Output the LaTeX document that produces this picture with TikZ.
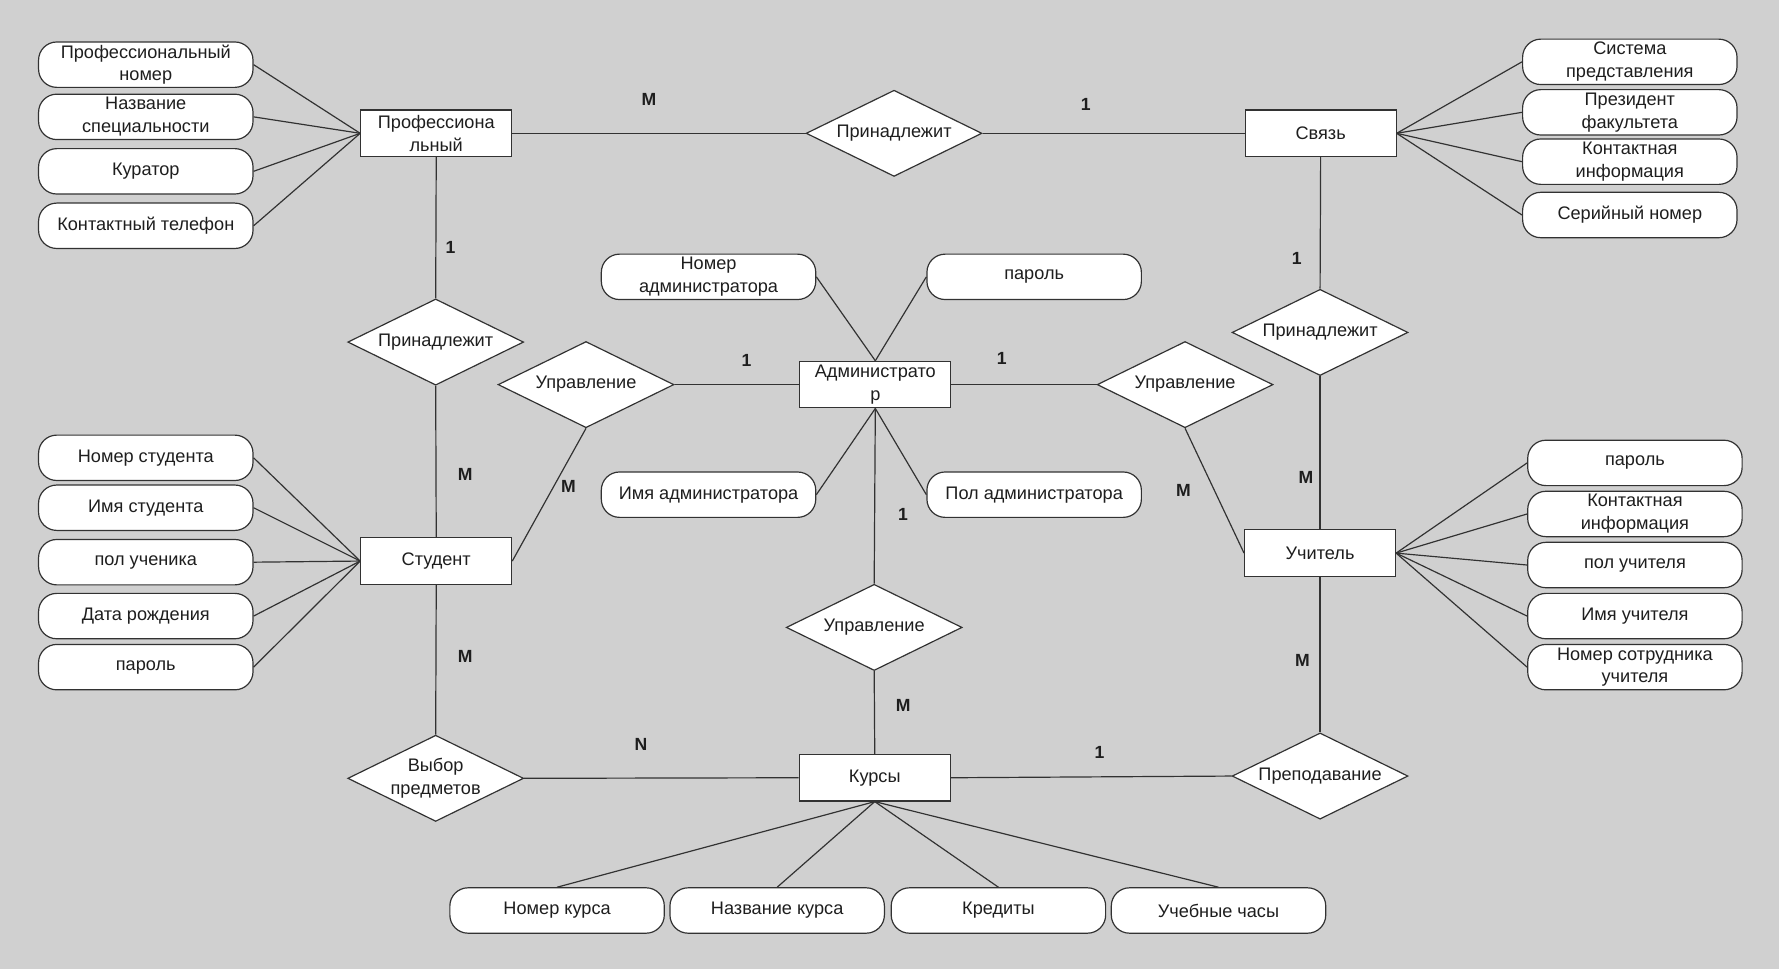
\documentclass[tikz,border=0pt]{standalone}
\usepackage{fontspec}
\setmainfont{Liberation Sans}
\usetikzlibrary{shapes.geometric}
\definecolor{bg}{RGB}{208,208,208}
\definecolor{ln}{RGB}{50,50,50}
\definecolor{tx}{RGB}{30,30,30}
\tikzset{
  ent/.style={draw=ln, fill=white, line width=1.05pt, minimum width=133pt, minimum height=41pt, inner sep=0pt, align=center, text=tx, font=\fontsize{16}{20}\selectfont},
  attr/.style={draw=ln, fill=white, line width=1.05pt, rounded corners=16pt, minimum width=189pt, minimum height=40pt, inner sep=0pt, align=center, text=tx, font=\fontsize{16}{20}\selectfont},
  rel/.style={draw=ln, fill=white, line width=1.05pt, diamond, aspect=2.04, minimum width=155pt, minimum height=76pt, inner sep=0pt, align=center, text=tx, font=\fontsize{16}{20}\selectfont},
  card/.style={text=tx, font=\fontsize{15.5}{18}\selectfont\bfseries, inner sep=0pt},
  conn/.style={draw=ln, line width=1.05pt}
}
\begin{document}
\begin{tikzpicture}[x=1pt,y=-1pt]
\fill[bg] (0,0) rectangle (1568,854);
\useasboundingbox (0,0) rectangle (1568,854);

% entities
\node[ent] (prof) at (384.5,117.5) {Профессиона\\льный};
\node[ent] (svyaz) at (1164,117.5) {Связь};
\node[ent] (stud) at (384.5,494.5) {Студент};
\node[ent] (adm) at (771.5,339) {Администрато\\р};
\node[ent] (uch) at (1163.5,487.5) {Учитель};
\node[ent] (kurs) at (771,685.5) {Курсы};

% relationships
\node[rel] (r1) at (788,117.5) {Принадлежит};
\node[rel] (r2) at (384,301.5) {Принадлежит};
\node[rel] (r3) at (516.5,339) {Управление};
\node[rel] (r4) at (1044.5,339) {Управление};
\node[rel] (r5) at (1163.5,293) {Принадлежит};
\node[rel] (r6) at (770.5,553) {Управление};
\node[rel] (r7) at (384,686) {Выбор\\предметов};
\node[rel] (r8) at (1163.5,684) {Преподавание};

% attributes of Профессиональный
\node[attr] (p1) at (128.5,57) {Профессиональный\\номер};
\node[attr] (p2) at (128.5,103) {Название\\специальности};
\node[attr] (p3) at (128.5,151) {Куратор};
\node[attr] (p4) at (128.5,199) {Контактный телефон};
% attributes of Связь
\node[attr] (s1) at (1436.5,54.5) {Система\\представления};
\node[attr] (s2) at (1436.5,99) {Президент\\факультета};
\node[attr] (s3) at (1436.5,142.5) {Контактная\\информация};
\node[attr] (s4) at (1436.5,189.5) {Серийный номер};
% attributes of Администратор
\node[attr] (a1) at (624.5,244) {Номер\\администратора};
\node[attr] (a2) at (911.5,244) {пароль};
\node[attr] (a3) at (624.5,436) {Имя администратора};
\node[attr] (a4) at (911.5,436) {Пол администратора};
% attributes of Студент
\node[attr] (st1) at (128.5,403.5) {Номер студента};
\node[attr] (st2) at (128.5,447.5) {Имя студента};
\node[attr] (st3) at (128.5,495.5) {пол ученика};
\node[attr] (st4) at (128.5,543) {Дата рождения};
\node[attr] (st5) at (128.5,588) {пароль};
% attributes of Учитель
\node[attr] (u1) at (1441,408) {пароль};
\node[attr] (u2) at (1441,453) {Контактная\\информация};
\node[attr] (u3) at (1441,498) {пол учителя};
\node[attr] (u4) at (1441,543) {Имя учителя};
\node[attr] (u5) at (1441,588) {Номер сотрудника\\учителя};
% attributes of Курсы
\node[attr] (k1) at (491,802.5) {Номер курса};
\node[attr] (k2) at (685,802.5) {Название курса};
\node[attr] (k3) at (880,802.5) {Кредиты};
\node[attr] (k4) at (1074,802.5) {Учебные часы};

% attribute connectors
\foreach \a in {p1,p2,p3,p4} \draw[conn] (\a.east) -- (prof.west);
\foreach \a in {s1,s2,s3,s4} \draw[conn] (\a.west) -- (svyaz.east);
\foreach \a in {st1,st2,st3,st4,st5} \draw[conn] (\a.east) -- (stud.west);
\foreach \a in {u1,u2,u3,u4,u5} \draw[conn] (\a.west) -- (uch.east);
\foreach \a in {k1,k2,k3,k4} \draw[conn] (\a.north) -- (kurs.south);
\draw[conn] (a1.east) -- (adm.north);
\draw[conn] (a2.west) -- (adm.north);
\draw[conn] (a3.east) -- (adm.south);
\draw[conn] (a4.west) -- (adm.south);

% relationship connectors
\draw[conn] (prof.east) -- (r1.west);
\draw[conn] (r1.east) -- (svyaz.west);
\draw[conn] (prof.south) -- (r2.north);
\draw[conn] (r2.south) -- (stud.north);
\draw[conn] (stud.south) -- (r7.north);
\draw[conn] (r7.east) -- (kurs.west);
\draw[conn] (stud.east) -- (r3.south);
\draw[conn] (r3.east) -- (adm.west);
\draw[conn] (adm.east) -- (r4.west);
\draw[conn] (r4.south) -- (uch.west);
\draw[conn] (adm.south) -- (r6.north);
\draw[conn] (r6.south) -- (kurs.north);
\draw[conn] (svyaz.south) -- (r5.north);
\draw[conn] (r5.south) -- (uch.north);
\draw[conn] (uch.south) -- (r8.north);
\draw[conn] (r8.west) -- (kurs.east);

% cardinalities
\node[card] (c1) at (572,88) {M};
\node[card] (c2) at (957,92) {1};
\node[card] (c3) at (397,218) {1};
\node[card] (c4) at (410,418) {M};
\node[card] (c5) at (410,579) {M};
\node[card] (c6) at (565,656) {N};
\node[card] (c7) at (501,429) {M};
\node[card] (c8) at (658,318) {1};
\node[card] (c9) at (883,316) {1};
\node[card] (c10) at (1043,432) {M};
\node[card] (c11) at (796,453) {1};
\node[card] (c12) at (796,622) {M};
\node[card] (c13) at (1143,228) {1};
\node[card] (c14) at (1151,421) {M};
\node[card] (c15) at (1148,582) {M};
\node[card] (c16) at (969,663) {1};
\end{tikzpicture}
\end{document}
